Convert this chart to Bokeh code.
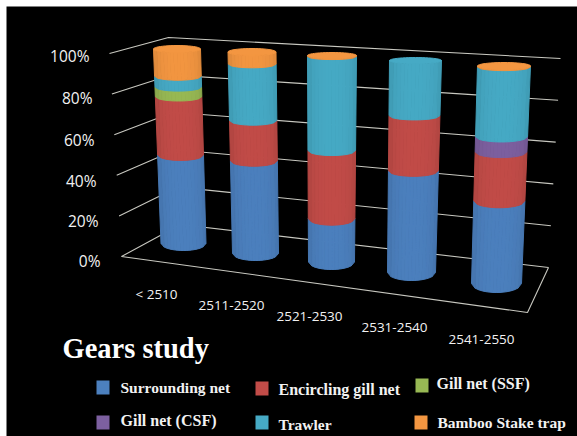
import math
from bokeh.plotting import figure
from bokeh.core.properties import value
from bokeh.embed import file_html
from bokeh.resources import INLINE

# Share of catch by gear type per period (percent)
periods = ["< 2510", "2511-2520", "2521-2530", "2531-2540", "2541-2550"]
surrounding_net = [45.5, 46, 21, 48, 38]
encircling_gill_net = [30, 20, 33, 26, 22.5]
gill_net_ssf = [5, 0, 0, 0, 0]
gill_net_csf = [0, 0, 0, 0, 7]
trawler = [5.5, 28, 45.5, 26, 32]
bamboo_stake_trap = [14, 6, 0.5, 0, 0.5]
percent_ticks = [0, 20, 40, 60, 80, 100]

series = [
    ("Surrounding net", surrounding_net, (76, 128, 190)),
    ("Encircling gill net", encircling_gill_net, (194, 76, 72)),
    ("Gill net (SSF)", gill_net_ssf, (152, 185, 84)),
    ("Gill net (CSF)", gill_net_csf, (125, 96, 160)),
    ("Trawler", trawler, (70, 170, 197)),
    ("Bamboo Stake trap", bamboo_stake_trap, (243, 150, 65)),
]

# Perspective frame of the 3D chart, in screen units
W, H = 577, 436
LEFT_0, LEFT_100 = (121, 256), (109, 53)
CORNER_0, CORNER_100 = (180, 224), (168, 37)
RIGHT_0, RIGHT_100 = (548, 267), (560, 58)
FRONT_RIGHT = (527, 312)

# Cylinder placement at 0% and at 100%: centre x, front-edge y, half width, ellipse half height
BASE = [(183, 250, 22.5, 7), (255, 260, 23, 7), (331, 269, 23, 7.5), (411, 280, 24, 8), (496, 292, 25, 9)]
TOP = [(176.5, 52, 23.5, 3.5), (251.5, 55, 24, 3.5), (331.5, 58, 24.5, 3), (415, 63, 26, 3), (503.5, 69, 26.5, 3.5)]


def lerp(a, b, t):
    return a + (b - a) * t


def wall(a, b, pct):
    t = pct / 100
    return lerp(a[0], b[0], t), lerp(a[1], b[1], t)


def ring(i, pct):
    t = pct / 100
    return tuple(lerp(BASE[i][k], TOP[i][k], t) for k in range(4))


def shade(rgb, f):
    return "#%02x%02x%02x" % tuple(min(255, int(c * f)) for c in rgb)


p = figure(width=W, height=H, x_range=(0, W), y_range=(H, 0), output_backend="svg",
           toolbar_location=None, min_border=0, outline_line_color=None,
           background_fill_color="white", border_fill_color="white")
p.axis.visible = False
p.grid.visible = False

p.quad(left=6, right=W, top=6, bottom=H, fill_color="black", line_color=None)

# Walls and floor
GRID = "#c8c8c0"
for pct in percent_ticks:
    a, b, c = wall(LEFT_0, LEFT_100, pct), wall(CORNER_0, CORNER_100, pct), wall(RIGHT_0, RIGHT_100, pct)
    p.line([a[0], b[0], c[0]], [a[1], b[1], c[1]], line_color=GRID, line_width=1.1)
p.line([LEFT_0[0], FRONT_RIGHT[0], RIGHT_0[0]], [LEFT_0[1], FRONT_RIGHT[1], RIGHT_0[1]],
       line_color=GRID, line_width=1.1)

# Cylinders, stacked from the floor up; facets have equal screen width so the shading stays smooth
FACETS = 14
edges = [math.acos(1 - 2 * k / FACETS) for k in range(FACETS + 1)]
xs, ys, fills = [], [], []
for i in range(len(periods)):
    level = 0
    last_rgb = None
    for _, vals, rgb in series:
        v = vals[i]
        if v <= 0:
            continue
        lo, hi = ring(i, level), ring(i, level + v)
        for k in range(FACETS):
            t1, t2 = edges[k], edges[k + 1]
            xs.append([hi[0] + hi[2] * math.cos(t1), hi[0] + hi[2] * math.cos(t2),
                       lo[0] + lo[2] * math.cos(t2), lo[0] + lo[2] * math.cos(t1)])
            ys.append([hi[1] - hi[3] + hi[3] * math.sin(t1), hi[1] - hi[3] + hi[3] * math.sin(t2),
                       lo[1] - lo[3] + lo[3] * math.sin(t2), lo[1] - lo[3] + lo[3] * math.sin(t1)])
            fills.append(shade(rgb, 0.9 + 0.1 * math.sin((t1 + t2) / 2)))
        level += v
        last_rgb = rgb
    cap = ring(i, 100)
    steps = [2 * math.pi * s / 48 for s in range(48)]
    xs.append([cap[0] + cap[2] * math.cos(s) for s in steps])
    ys.append([cap[1] - cap[3] + cap[3] * math.sin(s) for s in steps])
    fills.append(shade(last_rgb, 1.0))
p.patches(xs, ys, fill_color=fills, line_color=fills, line_width=1)

# Percent labels beside the left wall
TEXT = "#f2f2f2"
tick_right = [100, 98, 96, 94, 92, 89]
tick_y = [260, 220, 180, 139, 97, 55]
for pct, x, y in zip(percent_ticks, tick_right, tick_y):
    p.text([x], [y], text=[f"{pct}%"], text_color=TEXT, text_font=value("Open Sans"),
           text_font_size="15.5px", text_align="right", text_baseline="middle")

# Period labels under the floor
period_x = [156, 231, 309, 394, 481]
period_y = [293, 305, 316, 327, 339]
for name, x, y in zip(periods, period_x, period_y):
    p.text([x], [y], text=[name], text_color=TEXT, text_font=value("Open Sans"),
           text_font_size="13.5px", text_align="center", text_baseline="middle")

p.text([62], [348], text=["Gears study"], text_color="white", text_font=value("Liberation Serif"),
       text_font_style="bold", text_font_size="28.5px", text_baseline="middle")

# Legend
swatch_x = [96, 255, 415, 96, 255, 414]
swatch_y = [387, 388, 385, 422, 422, 422]
label_x = [120, 278, 436, 120, 278, 437]
label_y = [387, 389, 383, 420, 424, 422]
label_size = ["15.5px", "16px", "16px", "16px", "15.5px", "15.5px"]
for (name, _, rgb), sx, sy, lx, ly, ls in zip(series, swatch_x, swatch_y, label_x, label_y, label_size):
    p.rect([sx + 6.5], [sy], width=13, height=14, fill_color=shade(rgb, 1), line_color=None)
    p.text([lx], [ly], text=[name], text_color=TEXT, text_font=value("Liberation Serif"),
           text_font_style="bold", text_font_size=ls, text_baseline="middle")

open("out.html", "w").write(file_html(p, INLINE))
